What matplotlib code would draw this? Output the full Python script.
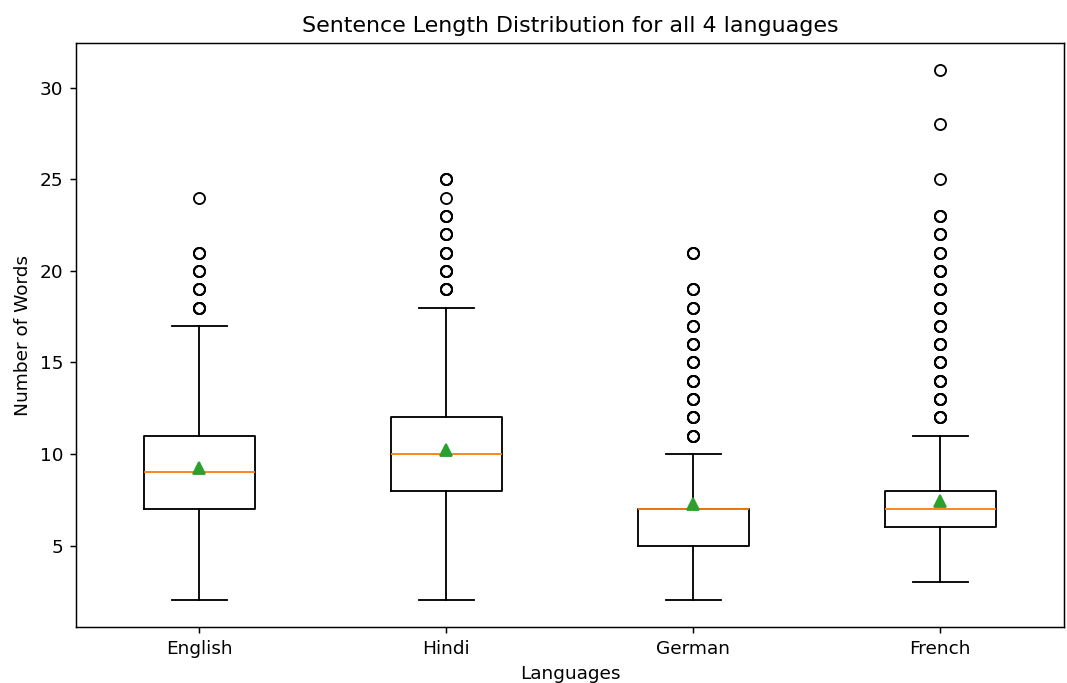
import matplotlib
matplotlib.use("Agg")
import matplotlib.pyplot as plt

languages = ["English", "Hindi", "German", "French"]
whisker_low = [2, 2, 2, 3]
q1 = [7, 8, 5, 6]
median = [9, 10, 7, 7]
q3 = [11, 12, 7, 8]
whisker_high = [17, 18, 10, 11]
mean = [9.25, 10.22, 7.28, 7.42]
# outlier values, and how many sentences hit each value (rough, from marker darkness)
outlier_values = [
    [18, 19, 20, 21, 24],
    [19, 20, 21, 22, 23, 24, 25],
    [11, 12, 13, 14, 15, 16, 17, 18, 19, 21],
    [12, 13, 14, 15, 16, 17, 18, 19, 20, 21, 22, 23, 25, 28, 31],
]
outlier_counts = [
    [4, 3, 3, 3, 1],
    [4, 4, 4, 3, 3, 1, 3],
    [4, 4, 4, 4, 4, 4, 3, 3, 3, 3],
    [4, 4, 4, 4, 4, 4, 4, 4, 4, 3, 3, 3, 1, 1, 1],
]

stats = []
for i, lang in enumerate(languages):
    fliers = []
    for v, c in zip(outlier_values[i], outlier_counts[i]):
        fliers += [v] * c
    stats.append({
        "label": lang,
        "whislo": whisker_low[i],
        "q1": q1[i],
        "med": median[i],
        "q3": q3[i],
        "whishi": whisker_high[i],
        "mean": mean[i],
        "fliers": fliers,
    })

dpi = 133
fig = plt.figure(figsize=(1067 / dpi, 683 / dpi), dpi=dpi)
ax = fig.add_axes([0.0712, 0.082, 0.9258, 0.855])
ax.bxp(stats, showmeans=True, widths=0.45)
ax.set_title("Sentence Length Distribution for all 4 languages")
ax.set_xlabel("Languages")
ax.set_ylabel("Number of Words")

fig.savefig("out.png", dpi=dpi)
plt.close(fig)
